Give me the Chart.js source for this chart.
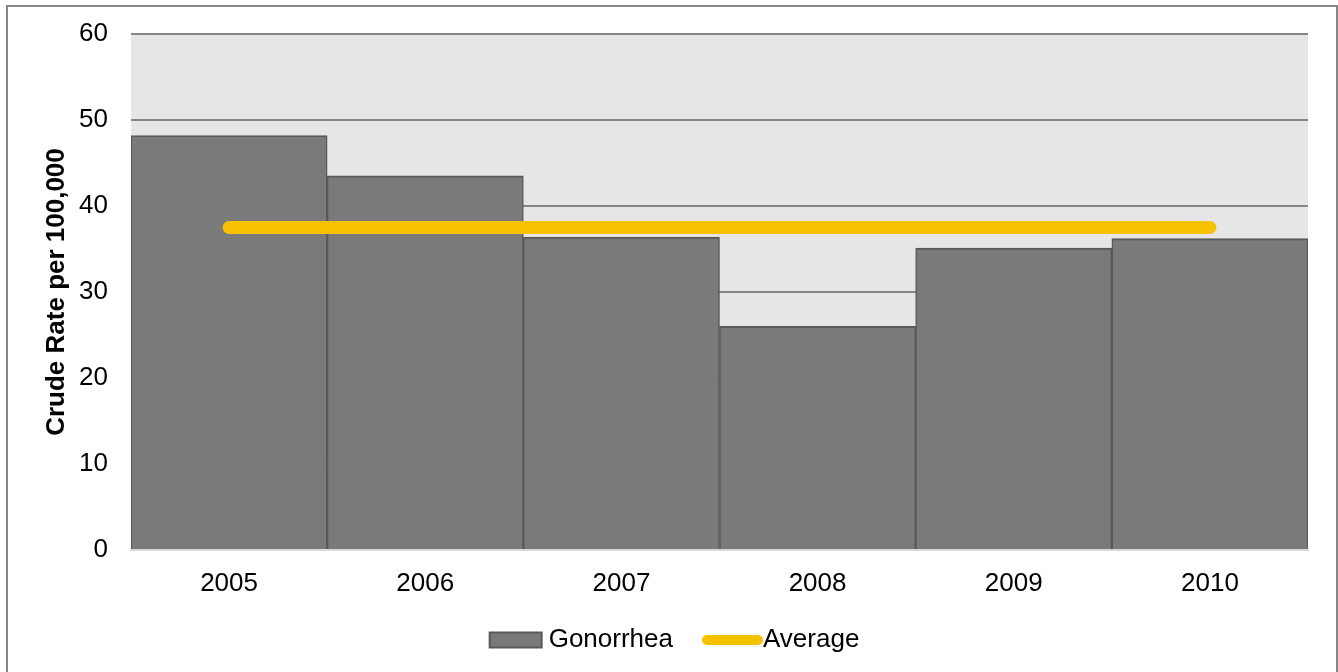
<!DOCTYPE html>
<html>
<head>
<meta charset="utf-8">
<script src="https://cdn.jsdelivr.net/npm/chart.js@4.4.1/dist/chart.umd.min.js"></script>
<style>
  html, body { margin: 0; padding: 0; background: #fff; }
  #wrap { position: relative; width: 1338px; height: 672px; }
</style>
</head>
<body>
<div id="wrap"><canvas id="rateChart"></canvas></div>
<script>
const years = ["2005", "2006", "2007", "2008", "2009", "2010"];
const gonorrhea = [48.2, 43.5, 36.4, 26.0, 35.1, 36.2];
const average = [37.5, 37.5, 37.5, 37.5, 37.5, 37.5];
const yTicks = [0, 10, 20, 30, 40, 50, 60];

const barColor = "#7a7a7a";
const barEdge = "#595959";
const avgColor = "#f5c100";
const gridColor = "#868686";
const fontFamily = "'Liberation Sans', Arial, sans-serif";
const legendFont = 26;
const legendBox = 52;

// white page, grey frame and the shaded plot area
const backdrop = {
  id: "backdrop",
  beforeDraw(chart) {
    const { ctx, chartArea: a } = chart;
    ctx.save();
    ctx.fillStyle = "#ffffff";
    ctx.fillRect(0, 0, chart.width, chart.height);
    ctx.strokeStyle = gridColor;
    ctx.lineWidth = 2;
    ctx.strokeRect(7, 6, 1330, 700);
    ctx.fillStyle = "#e6e6e6";
    ctx.fillRect(a.left, a.top, a.right - a.left, a.bottom - a.top);
    ctx.restore();
  }
};

// legend swatches sit close to their text, so draw them here
const swatches = {
  id: "swatches",
  afterDraw(chart) {
    const legend = chart.legend;
    if (!legend || !legend.legendHitBoxes) return;
    const { ctx } = chart;
    legend.legendItems.forEach((item, i) => {
      const hb = legend.legendHitBoxes[i];
      const textX = hb.left + legendBox + legendFont / 2;
      const y = hb.top + hb.height / 2;
      ctx.save();
      if (item.text === "Average") {
        ctx.strokeStyle = avgColor;
        ctx.lineWidth = 10;
        ctx.lineCap = "round";
        ctx.beginPath();
        ctx.moveTo(textX - 56, y);
        ctx.lineTo(textX - 5, y);
        ctx.stroke();
      } else {
        ctx.fillStyle = barColor;
        ctx.strokeStyle = barEdge;
        ctx.lineWidth = 2;
        ctx.fillRect(textX - 59, y - 7.5, 52, 15);
        ctx.strokeRect(textX - 59, y - 7.5, 52, 15);
      }
      ctx.restore();
    });
  }
};

new Chart(document.getElementById("rateChart"), {
  type: "bar",
  data: {
    labels: years,
    datasets: [
      {
        type: "line",
        label: "Average",
        data: average,
        borderColor: avgColor,
        backgroundColor: avgColor,
        borderWidth: 13,
        borderCapStyle: "round",
        pointRadius: 0,
        fill: false
      },
      {
        label: "Gonorrhea",
        data: gonorrhea,
        backgroundColor: barColor,
        borderColor: barEdge,
        borderWidth: { top: 2, left: 1.5, right: 1.5, bottom: 0 },
        categoryPercentage: 1,
        barPercentage: 1
      }
    ]
  },
  options: {
    responsive: true,
    maintainAspectRatio: false,
    animation: false,
    layout: { padding: { top: 34, left: 35, right: 30, bottom: 9 } },
    scales: {
      x: {
        grid: { display: false },
        border: { color: "#d9d9d9", width: 2 },
        ticks: { color: "#000", padding: 10, font: { family: fontFamily, size: 26 } },
        afterFit: (scale) => { scale.height = 52; }
      },
      y: {
        min: 0,
        max: 60,
        afterBuildTicks: (scale) => { scale.ticks = yTicks.map(v => ({ value: v })); },
        grid: {
          drawTicks: false,
          lineWidth: 2,
          color: (c) => (c.tick && c.tick.value === 0 ? "rgba(0,0,0,0)" : gridColor)
        },
        border: { display: false },
        ticks: { color: "#000", padding: 23, font: { family: fontFamily, size: 26 } },
        title: {
          display: true,
          text: "Crude Rate per 100,000",
          color: "#000",
          padding: { top: 6, bottom: 0 },
          font: { family: fontFamily, size: 26, weight: "bold" }
        },
        afterFit: (scale) => {
          scale.width = 96;
          scale.paddingTop = 0;
          scale.paddingBottom = 0;
        }
      }
    },
    plugins: {
      tooltip: { enabled: false },
      legend: {
        position: "bottom",
        labels: {
          color: "#000",
          boxWidth: legendBox,
          boxHeight: 15,
          padding: 25,
          font: { family: fontFamily, size: legendFont },
          sort: (a, b) => b.datasetIndex - a.datasetIndex,
          generateLabels: (chart) => {
            const items = Chart.defaults.plugins.legend.labels.generateLabels(chart);
            items.forEach(it => {
              it.fillStyle = "rgba(0,0,0,0)";
              it.strokeStyle = "rgba(0,0,0,0)";
              it.lineWidth = 0;
            });
            return items;
          }
        }
      }
    }
  },
  plugins: [backdrop, swatches]
});
</script>
</body>
</html>
